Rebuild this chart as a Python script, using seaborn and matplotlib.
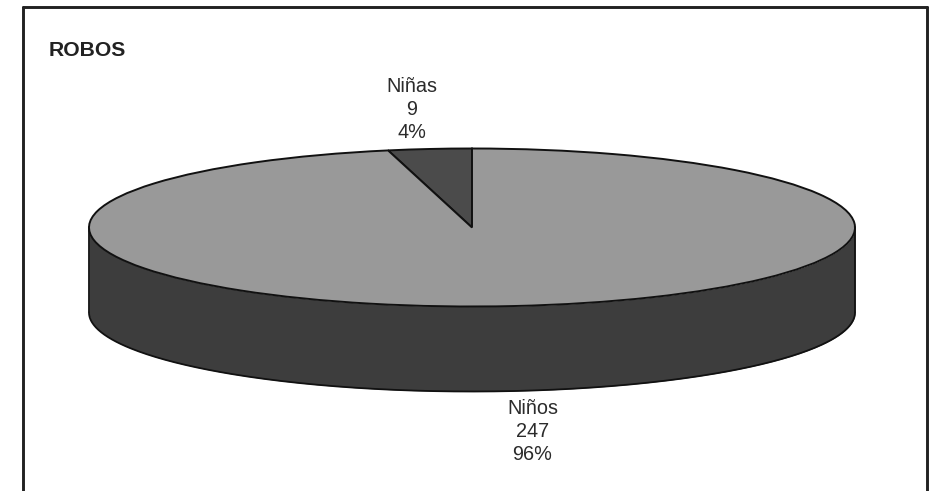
import numpy as np
import matplotlib
matplotlib.use("Agg")
import matplotlib.pyplot as plt
from matplotlib.lines import Line2D
import seaborn as sns

# Reported robberies by group
categories = ["Niñas", "Niños"]
counts = [9, 247]
chart_title = "ROBOS"

sns.set_theme(style="white")
plt.rcParams["font.family"] = ["Liberation Sans", "DejaVu Sans"]

W, H = 935, 491
CX, CY, RX, RY = 472.0, 227.5, 383.0, 79.0
DEPTH_PX = 85.0
TOP_COLOR = "#999999"
SLICE_COLOR = "#4b4b4b"
SIDE_COLOR = "#3d3d3d"
EDGE = "#111111"
TEXT = "#2b2b2b"

fig = plt.figure(figsize=(W / 100, H / 100), dpi=100, facecolor="white")
ax = fig.add_axes([0, 0, 1, 1])

# Pie wedges in unit-radius coordinates; free aspect flattens the circle into a disc
ax.pie(counts, colors=[SLICE_COLOR, TOP_COLOR], startangle=90,
       wedgeprops={"edgecolor": EDGE, "linewidth": 1.4, "zorder": 3})
ax.set_aspect("auto")
ax.set_xlim(-CX / RX, (W - CX) / RX)
ax.set_ylim(-(H - CY) / RY, CY / RY)
ax.axis("off")

# Cylinder wall under the front half of the disc
depth = DEPTH_PX / RY
theta = np.linspace(np.pi, 2 * np.pi, 300)
x, y = np.cos(theta), np.sin(theta)
ax.fill_between(x, y, y - depth, color=SIDE_COLOR, lw=0, zorder=1)
ax.plot(x, y - depth, color=EDGE, lw=1.3, zorder=2)
ax.plot([-1, -1], [0, -depth], color=EDGE, lw=1.3, zorder=2)
ax.plot([1, 1], [0, -depth], color=EDGE, lw=1.3, zorder=2)

# Slice labels: name, count and share of the total
total = sum(counts)
label_px = {"Niñas": (412.0, 109.5), "Niños": (532.5, 431.5)}
for name, value in zip(categories, counts):
    px, py = label_px[name]
    ax.text((px - CX) / RX, (CY - py) / RY,
            f"{name}\n{value}\n{100 * value / total:.0f}%",
            ha="center", va="center", ma="center", fontsize=14.3,
            color=TEXT, linespacing=1.28, zorder=4)

fig.text(49 / W, 1 - 51 / H, chart_title, fontsize=15.2, fontweight="bold",
         color="#222222", ha="left", va="center")

# Panel border, open at the bottom edge
fx = lambda v: v / W
fy = lambda v: 1 - v / H
for xs, ys in [((22.5, 22.5), (H + 5, 6.5)), ((22.5, 927), (6.5, 6.5)), ((927, 927), (6.5, H + 5))]:
    fig.add_artist(Line2D([fx(a) for a in xs], [fy(b) for b in ys],
                          color="#222222", lw=2.1, transform=fig.transFigure))

fig.savefig("out.png", dpi=100, facecolor="white")
